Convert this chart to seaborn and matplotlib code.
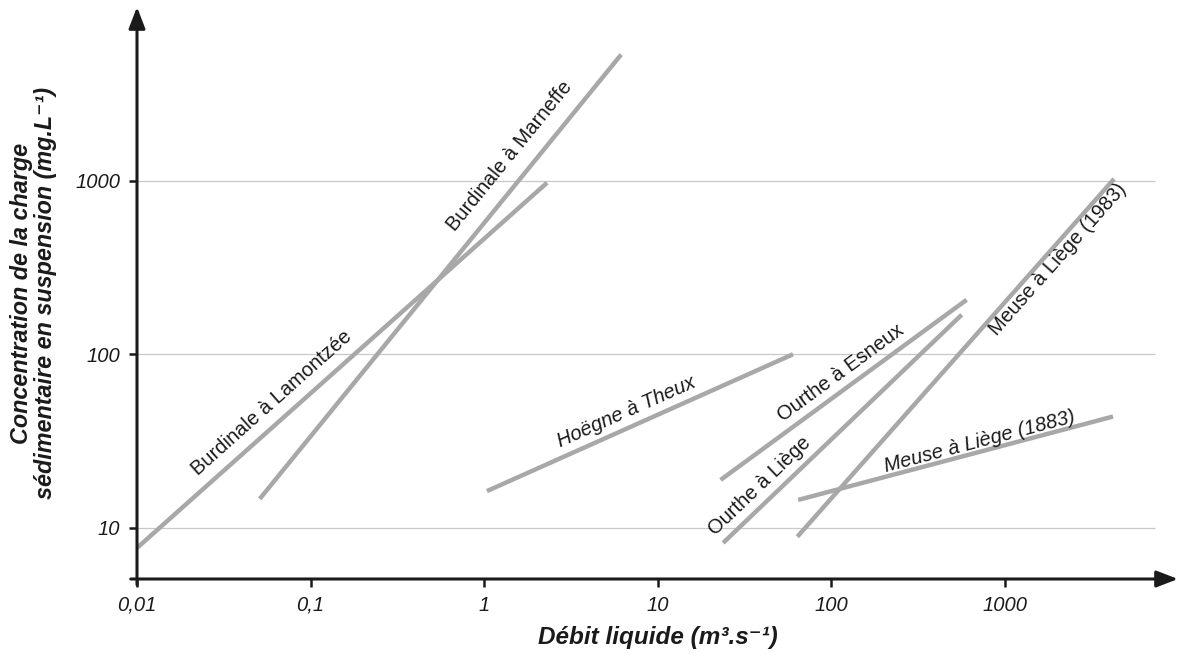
import pandas as pd
import numpy as np
import matplotlib.pyplot as plt
import seaborn as sns

# rating curves (start / end of each segment)
stations = ["Burdinale à Lamontzée", "Burdinale à Marneffe", "Hoëgne à Theux",
            "Ourthe à Esneux", "Ourthe à Liège", "Meuse à Liège (1983)",
            "Meuse à Liège (1883)"]
q_start = [0.01, 0.051, 1.04, 23.1, 23.9, 64.0, 64.7]
q_end = [2.31, 6.17, 60.4, 605, 567, 4280, 4220]
c_start = [7.67, 14.7, 16.3, 18.9, 8.2, 8.9, 14.5]
c_end = [973, 5320, 100, 206, 169, 1023, 43.8]

x_ticks = [0.01, 0.1, 1, 10, 100, 1000]
x_tick_labels = ["0,01", "0,1", "1", "10", "100", "1000"]
y_ticks = [10, 100, 1000]
y_tick_labels = ["10", "100", "1000"]

# label anchor (data coords), rotation, italic
lab_x = [0.060, 1.40, 6.58, 114, 39, 2034, 722]
lab_y = [52.5, 1380, 46.6, 78.2, 17.5, 350, 31.3]
lab_rot = [41.7, 50.9, 24.0, 36.2, 43.7, 48.4, 14.8]
lab_italic = [False, False, True, False, False, False, True]

df = pd.DataFrame({
    "station": stations * 2,
    "debit": q_start + q_end,
    "conc": c_start + c_end,
})

sns.set_style("white")
plt.rcParams['font.family'] = ['Liberation Sans', 'DejaVu Sans']

fig = plt.figure(figsize=(11.92, 6.53), dpi=100)
ax = fig.add_axes([137 / 1192, 1 - 579 / 653, (1178 - 137) / 1192, (579 - 7) / 653])
ax.set_xscale("log")
ax.set_yscale("log")
ax.set_xlim(0.01, 10000)
ax.set_ylim(5.08, 10000)

# light horizontal guides
ax.hlines(y_ticks, 0.01, 7360, color="#c8c8c8", lw=0.9, zorder=0)

sns.lineplot(data=df, x="debit", y="conc", units="station", estimator=None,
             color="#a8a8a8", lw=3.2, ax=ax, legend=False, solid_capstyle="butt")

for name, x, y, r, it in zip(stations, lab_x, lab_y, lab_rot, lab_italic):
    ax.text(x, y, name, rotation=r, rotation_mode="anchor", ha="center", va="center",
            fontsize=14.5, style="italic" if it else "normal", color="#1a1a1a")

# axes drawn as arrows
for s in ax.spines.values():
    s.set_visible(False)
ax.annotate("", xy=(1.0, 0), xytext=(-0.006, 0), xycoords="axes fraction",
            arrowprops=dict(arrowstyle="-|>,head_length=1.3,head_width=0.5",
                            color="#1a1a1a", lw=2.2, shrinkA=0, shrinkB=0))
ax.annotate("", xy=(0, 1.0), xytext=(0, -0.01), xycoords="axes fraction",
            arrowprops=dict(arrowstyle="-|>,head_length=1.3,head_width=0.5",
                            color="#1a1a1a", lw=2.2, shrinkA=0, shrinkB=0))

ax.set_xticks(x_ticks)
ax.set_xticklabels(x_tick_labels, fontsize=14.5, style="italic")
ax.set_yticks(y_ticks)
ax.set_yticklabels(y_tick_labels, fontsize=14.5, style="italic")
ax.minorticks_off()
ax.tick_params(axis="both", length=6, width=1.8, color="#1a1a1a", pad=6,
               bottom=True, left=True, labelcolor="#1a1a1a")
ax.grid(False)

ax.set_xlabel("Débit liquide (m³.s⁻¹)", fontsize=17.5, fontweight="bold",
              style="italic", labelpad=8, color="#1a1a1a")
ax.set_ylabel("Concentration de la charge\nsédimentaire en suspension (mg.L⁻¹)",
              fontsize=16.8, fontweight="bold", style="italic", labelpad=13,
              color="#1a1a1a", linespacing=1.05)

plt.savefig("out.png", dpi=100)
plt.close()
